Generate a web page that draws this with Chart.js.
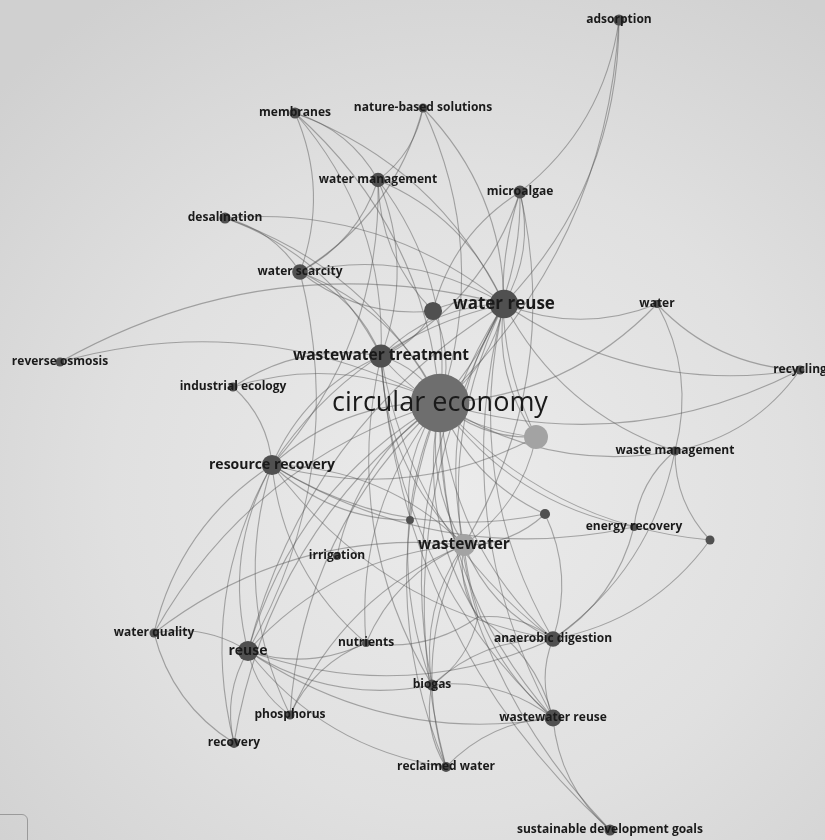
<!DOCTYPE html>
<html>
<head>
<meta charset="utf-8">
<title>circular economy – keyword map</title>
<script src="https://cdn.jsdelivr.net/npm/chart.js@4.4.1/dist/chart.umd.min.js"></script>
<style>
  html, body { margin: 0; padding: 0; }
  body {
    width: 825px; height: 840px; overflow: hidden; position: relative;
    background: radial-gradient(ellipse 75% 70% at 55% 58%, #ebebeb 0%, #e0e0e0 55%, #d0d0d0 100%);
  }
  #map { position: absolute; left: 0; top: 0; }
  .corner {
    position: absolute; left: -6px; top: 814px; width: 32px; height: 40px;
    border: 1px solid #9a9a9a; border-radius: 6px;
  }
</style>
</head>
<body>
<canvas id="map" width="825" height="840"></canvas>
<div class="corner"></div>
<script>
//
// Keyword co-occurrence map
//

// Keywords (empty label = node whose label is hidden)
var keywords = [
  'circular economy', 'water reuse', 'wastewater treatment', 'wastewater',
  'resource recovery', 'reuse', 'water scarcity', 'water management',
  'microalgae', 'anaerobic digestion', 'wastewater reuse', 'membranes',
  'nature-based solutions', 'adsorption', 'desalination', 'reverse osmosis',
  'industrial ecology', 'water', 'recycling', 'waste management',
  'energy recovery', 'irrigation', 'water quality', 'nutrients',
  'biogas', 'phosphorus', 'recovery', 'reclaimed water',
  'sustainable development goals', '', '', '', '', ''
];

// Map coordinates of each keyword
var mapX = [440, 504, 381, 464, 272, 248, 300, 378, 520, 553, 553, 295, 423, 619, 225, 60, 233, 657, 800, 675, 634, 337, 154, 366, 432, 290, 234, 446, 610, 433, 536, 410, 545, 710, 478];
var mapY = [403, 304, 356, 545, 465, 651, 272, 180, 192, 639, 718, 113, 108, 20, 218, 362, 387, 304, 370, 451, 527, 556, 633, 643, 685, 715, 743, 767, 830, 311, 437, 520, 514, 540, 617];

// Occurrences of each keyword
var occurrences = [84, 20, 13, 12, 10, 10, 6, 5, 4, 6, 7, 3, 2, 3, 3, 2, 2, 1.5, 2, 2, 1.5, 1.5, 2, 1.5, 3, 2, 2.5, 2.5, 3, 8, 14, 1.5, 2.5, 2, 4.5];

// Co-occurrence links [from, to]
var links = [
  [0,1],[0,2],[0,3],[0,4],[0,5],[0,6],[0,7],[0,8],[0,9],[0,10],[0,11],[0,12],[0,13],[0,14],
  [0,15],[0,16],[0,17],[0,18],[0,19],[0,20],[0,21],[0,22],[0,23],[0,24],[0,25],[0,26],[0,27],
  [0,28],[0,29],[0,30],[0,31],[0,32],[0,33],[0,34],
  [1,2],[1,3],[1,4],[1,5],[1,6],[1,7],[1,8],[1,9],[1,10],[1,11],[1,12],[1,13],[1,14],[1,15],
  [1,17],[1,18],[1,19],[1,24],[1,27],[1,29],[1,30],[1,34],
  [2,3],[2,4],[2,6],[2,7],[2,8],[2,9],[2,10],[2,11],[2,14],[2,16],[2,24],[2,28],[2,29],[2,30],
  [3,4],[3,5],[3,8],[3,9],[3,10],[3,22],[3,23],[3,24],[3,25],[3,27],[3,30],[3,32],[3,34],
  [4,5],[4,7],[4,9],[4,16],[4,20],[4,22],[4,23],[4,25],[4,26],[4,30],[4,31],[4,32],
  [5,6],[5,9],[5,10],[5,22],[5,23],[5,25],[5,26],[5,27],[5,24],
  [6,7],[6,11],[6,12],[6,14],[6,29],
  [7,11],[7,12],[7,29],
  [8,13],[8,29],[8,30],
  [9,10],[9,19],[9,20],[9,24],[9,32],[9,33],[9,34],
  [10,24],[10,27],[10,28],[10,34],
  [19,17],[19,18],[19,20],[19,33],
  [17,18],[23,25],[23,34],[24,27],[24,34],[22,26]
];

// Node and label style
var lightNodes = [3, 30];
function nodeRadius(occ) { return 3.2 * Math.sqrt(occ); }
function labelFont(i) {
  if (i === 0) return '400 27px "Open Sans"';
  var sizes = {1: 17, 2: 15.5, 3: 15.5, 4: 14, 5: 14};
  return '700 ' + (sizes[i] || 12) + 'px "Open Sans"';
}

var points = keywords.map(function(k, i) {
  return { x: mapX[i], y: mapY[i], r: nodeRadius(occurrences[i]) };
});
var nodeColors = keywords.map(function(k, i) {
  if (i === 0) return '#6e6e6e';
  return lightNodes.indexOf(i) >= 0 ? '#a3a3a3' : '#505050';
});

// Curved links drawn under the nodes
var linkPlugin = {
  id: 'links',
  beforeDatasetsDraw: function(chart) {
    var ctx = chart.ctx, sx = chart.scales.x, sy = chart.scales.y;
    ctx.save();
    ctx.strokeStyle = 'rgba(80,80,80,0.45)';
    ctx.lineWidth = 1.1;
    links.forEach(function(l) {
      var x1 = sx.getPixelForValue(mapX[l[0]]), y1 = sy.getPixelForValue(mapY[l[0]]);
      var x2 = sx.getPixelForValue(mapX[l[1]]), y2 = sy.getPixelForValue(mapY[l[1]]);
      var mx = (x1 + x2) / 2, my = (y1 + y2) / 2;
      var dx = x2 - x1, dy = y2 - y1;
      var cx = mx - dy * 0.2, cy = my + dx * 0.2;
      ctx.beginPath();
      ctx.moveTo(x1, y1);
      ctx.quadraticCurveTo(cx, cy, x2, y2);
      ctx.stroke();
    });
    ctx.restore();
  }
};

// Labels centred on the nodes
var labelPlugin = {
  id: 'labels',
  afterDatasetsDraw: function(chart) {
    var ctx = chart.ctx, sx = chart.scales.x, sy = chart.scales.y;
    ctx.save();
    ctx.fillStyle = '#1a1a1a';
    ctx.textAlign = 'center';
    ctx.textBaseline = 'middle';
    keywords.forEach(function(k, i) {
      if (!k) return;
      ctx.font = labelFont(i);
      ctx.fillText(k, sx.getPixelForValue(mapX[i]), sy.getPixelForValue(mapY[i]));
    });
    ctx.restore();
  }
};

var keywordMap = new Chart(document.getElementById('map'), {
  type: 'bubble',
  data: {
    datasets: [{
      data: points,
      backgroundColor: nodeColors,
      borderWidth: 0,
      clip: false
    }]
  },
  options: {
    responsive: false,
    animation: false,
    layout: { padding: 0, autoPadding: false },
    plugins: { legend: { display: false }, tooltip: { enabled: false } },
    scales: {
      x: { type: 'linear', min: 0, max: 825, display: false },
      y: { type: 'linear', min: 0, max: 840, reverse: true, display: false }
    }
  },
  plugins: [linkPlugin, labelPlugin]
});
</script>
</body>
</html>
